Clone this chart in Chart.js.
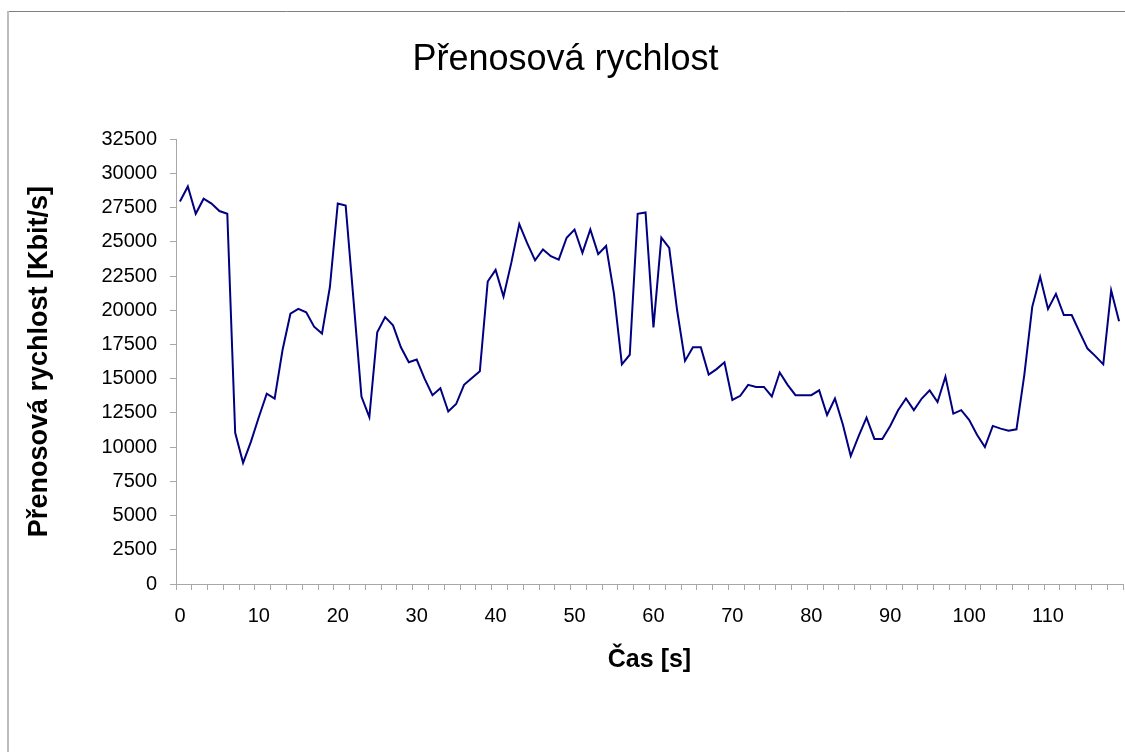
<!DOCTYPE html>
<html>
<head>
<meta charset="utf-8">
<script src="https://cdn.jsdelivr.net/npm/chart.js@4/dist/chart.umd.min.js"></script>
<style>
  body { margin: 0; background: #fff; }
  #wrap { width: 1125px; height: 752px; }
</style>
</head>
<body>
<div id="wrap"><canvas id="rychlost" width="1125" height="752"></canvas></div>
<script>
// cas v sekundach 0..119
const casy = [];
for (let i = 0; i < 120; i++) casy.push(String(i));

// prenosova rychlost [Kbit/s]
const rychlost = [
  27950, 29050, 27050, 28150, 27800, 27250, 27050, 11050, 8850, 10400,
  12200, 13900, 13550, 17100, 19750, 20100, 19850, 18800, 18300, 21700,
  27800, 27650, 20700, 13700, 12200, 18400, 19500, 18900, 17300, 16200,
  16400, 15000, 13800, 14300, 12600, 13150, 14550, 15050, 15550, 22100,
  22950, 21000, 23500, 26300, 24900, 23650, 24450, 23950, 23700, 25300,
  25900, 24200, 25900, 24100, 24700, 21200, 16050, 16750, 27050, 27150,
  18750, 25300, 24550, 20000, 16300, 17300, 17300, 15300, 15700, 16200,
  13450, 13750, 14550, 14400, 14400, 13700, 15450, 14550, 13800, 13800,
  13800, 14150, 12350, 13550, 11650, 9350, 10800, 12150, 10600, 10600,
  11550, 12700, 13550, 12700, 13550, 14150, 13300, 15150, 12450, 12700,
  12000, 10900, 10000, 11550, 11350, 11200, 11300, 15300, 20250, 22450,
  20100, 21200, 19650, 19650, 18400, 17200, 16650, 16050, 21450, 19200
];

const yMax = 32500;
const yKrok = 2500;

Chart.defaults.font.family = "'Liberation Sans', Arial, sans-serif";
Chart.defaults.color = '#000';

const sedaOsa = '#a8a8a8';

// ramecek kolem grafu (jako v Excelu)
const ramecek = {
  id: 'ramecek',
  beforeDraw(chart) {
    const c = chart.ctx;
    c.save();
    c.fillStyle = '#fff';
    c.fillRect(0, 0, chart.width, chart.height);
    c.strokeStyle = '#808080';
    c.lineWidth = 1;
    c.beginPath();
    c.moveTo(7, 11.5);
    c.lineTo(chart.width, 11.5);
    c.stroke();
    c.strokeStyle = '#bdbdbd';
    c.lineWidth = 2;
    c.beginPath();
    c.moveTo(8, 11);
    c.lineTo(8, chart.height);
    c.stroke();
    c.restore();
  }
};

new Chart(document.getElementById('rychlost'), {
  type: 'line',
  data: {
    labels: casy,
    datasets: [{
      label: 'Přenosová rychlost',
      data: rychlost,
      borderColor: '#000080',
      borderWidth: 2,
      pointRadius: 0,
      tension: 0,
      fill: false
    }]
  },
  options: {
    responsive: false,
    animation: false,
    layout: { padding: { left: 8, top: 11, right: 2, bottom: 77 } },
    plugins: {
      legend: { display: false },
      tooltip: { enabled: false },
      title: {
        display: true,
        text: 'Přenosová rychlost',
        font: { size: 36, weight: 'normal' },
        padding: { top: 27, bottom: 58 }
      }
    },
    scales: {
      x: {
        type: 'category',
        offset: true,
        grid: {
          offset: true,
          drawOnChartArea: false,
          tickLength: 6,
          tickColor: ctx => (ctx.index === undefined || ctx.index % 2 === 0) ? sedaOsa : 'rgba(0,0,0,0)'
        },
        border: { color: sedaOsa },
        ticks: {
          autoSkip: false,
          maxRotation: 0,
          padding: 14,
          font: { size: 20 },
          callback: function (v, i) { return i % 10 === 0 ? this.getLabelForValue(v) : ''; }
        },
        title: {
          display: true,
          text: 'Čas [s]',
          font: { size: 25, weight: 'bold' },
          padding: { top: 0, bottom: 0 }
        },
        afterFit: s => { s.height = 91; s.paddingLeft = 0; s.paddingRight = 0; }
      },
      y: {
        min: 0,
        max: yMax,
        grid: { drawOnChartArea: false, tickLength: 6, tickColor: sedaOsa },
        border: { color: sedaOsa },
        ticks: {
          stepSize: yKrok,
          padding: 13,
          font: { size: 20 },
          callback: v => String(v)
        },
        title: {
          display: true,
          text: 'Přenosová rychlost [Kbit/s]',
          font: { size: 27, weight: 'bold' },
          padding: { top: 15, bottom: 0 }
        },
        afterFit: s => { s.width = 168; }
      }
    }
  },
  plugins: [ramecek]
});
</script>
</body>
</html>
